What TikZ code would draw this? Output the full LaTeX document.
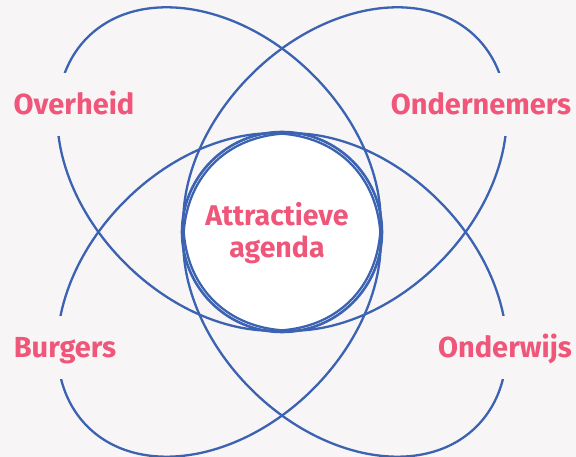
\documentclass[tikz,border=0pt]{standalone}
\usepackage{fontspec}
\setmainfont{Fira Sans}
\definecolor{achter}{RGB}{247,245,246}
\definecolor{lijn}{RGB}{59,99,177}
\definecolor{roze}{RGB}{239,86,121}

\begin{document}
\begin{tikzpicture}[x=1pt,y=1pt,
    ring/.style={lijn, line width=2.3pt},
    kern/.style={circle, draw=lijn, line width=2.6pt, fill=white, minimum size=200pt, inner sep=0pt},
    kop/.style={text=roze, font=\fontsize{29}{33}\selectfont\bfseries, fill=achter, text height=20pt, text depth=0pt, inner ysep=21.5pt},
]

\fill[achter] (0,0) rectangle (576,457);
\useasboundingbox (0,0) rectangle (576,457);

\node [kern] (agenda) at (282,225) {};

\draw [ring, rotate around={-45:(219,288)}] (219,288) ellipse [x radius=186pt, y radius=133pt];
\draw [ring, rotate around={45:(345,288)}] (345,288) ellipse [x radius=186pt, y radius=133pt];
\draw [ring, rotate around={45:(219,162)}] (219,162) ellipse [x radius=186pt, y radius=133pt];
\draw [ring, rotate around={-45:(345,162)}] (345,162) ellipse [x radius=186pt, y radius=133pt];

\node [text=roze, font=\fontsize{28.5}{32}\selectfont\bfseries, align=center] (agendatekst) at ([xshift=-5pt,yshift=-1pt]agenda.center) {Attractieve\\agenda};

\node [kop] (overheid) at (74,352) {Overheid};
\node [kop] (ondernemers) at (481,352) {Ondernemers};
\node [kop] (burgers) at (65,109) {Burgers};
\node [kop] (onderwijs) at (505,109) {Onderwijs};

\end{tikzpicture}
\end{document}
